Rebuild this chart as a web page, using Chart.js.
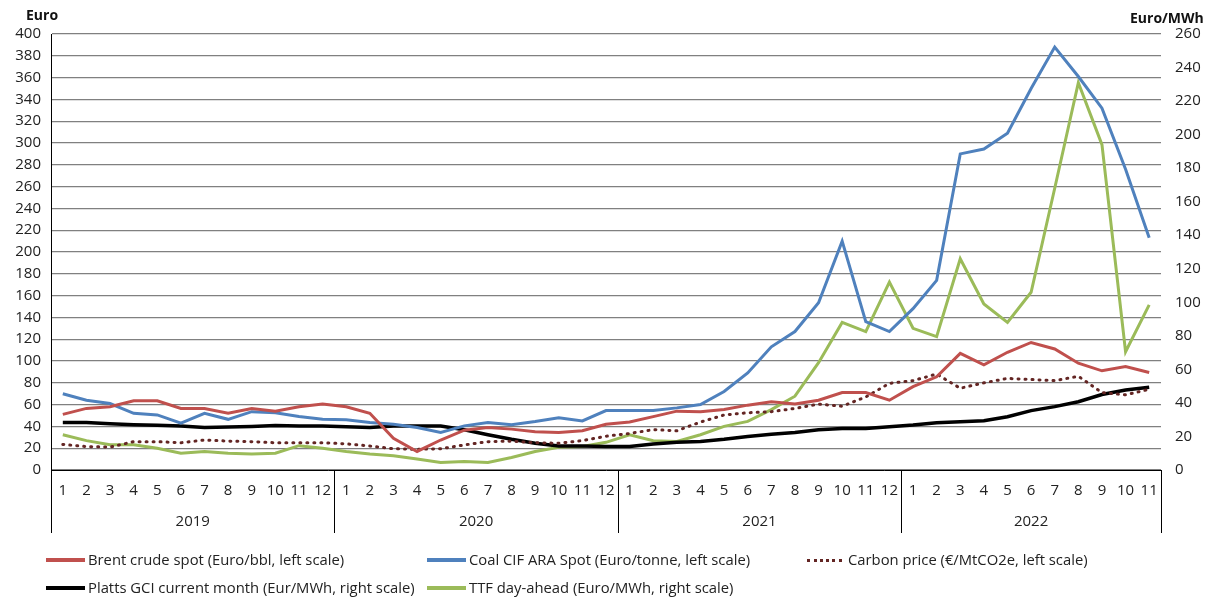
<!DOCTYPE html>
<html>
<head>
<meta charset="utf-8">
<script src="https://cdn.jsdelivr.net/npm/chart.js@4.4.0/dist/chart.umd.min.js"></script>
<style>
  body { margin: 0; background: #fff; font-family: "Open Sans", sans-serif; }
  #wrap { position: relative; width: 1214px; height: 601px; }
  .item { position: absolute; font-size: 14.8px; color: #222; white-space: nowrap; line-height: 20px; }
  .item span.sw { display: inline-block; width: 39px; height: 0; border-top: 4px solid; vertical-align: middle; margin-right: 3px; position: relative; top: -1px; }
  .axt { position: absolute; font-size: 14px; font-weight: bold; color: #111; }
</style>
</head>
<body>
<div id="wrap">
  <canvas id="chart" width="1214" height="601"></canvas>
  <div class="axt" style="left:26px; top:5px;">Euro</div>
  <div class="axt" style="left:1130px; top:8px;">Euro/MWh</div>
  <div class="item" style="left:46px; top:549px;"><span class="sw" style="border-color:#c0504d"></span>Brent crude spot (Euro/bbl, left scale)</div>
  <div class="item" style="left:427px; top:549px;"><span class="sw" style="border-color:#4f81bd"></span>Coal CIF ARA Spot (Euro/tonne, left scale)</div>
  <div class="item" style="left:807px; top:549px;"><span class="sw" style="border-top:3px dotted #632523; width:35px; margin-right:6px"></span>Carbon price (€/MtCO2e, left scale)</div>
  <div class="item" style="left:46px; top:577px;"><span class="sw" style="border-color:#000"></span>Platts GCI current month (Eur/MWh, right scale)</div>
  <div class="item" style="left:427px; top:577px;"><span class="sw" style="border-color:#9bbb59"></span>TTF day-ahead (Euro/MWh, right scale)</div>
</div>
<script>
// mesiace a roky
const years = ['2019', '2020', '2021', '2022'];
const monthsPerYear = [12, 12, 12, 11];
const months = [];
monthsPerYear.forEach((n) => { for (let m = 1; m <= n; m++) months.push(String(m)); });

// lava os (Euro)
const brent = [51, 56.5, 58, 63.5, 63.5, 56.5, 56.5, 52, 56.5, 54, 58, 60.5,
  58, 52, 29, 17, 27.5, 36.5, 39, 37.5, 35, 34.5, 36, 42,
  44, 49, 54, 53.5, 55.5, 59.5, 62.5, 60.5, 64, 71, 71, 64,
  76.5, 85.5, 107, 96.5, 108, 117, 111, 98, 91, 95, 89.5];
const coal = [70, 64, 61, 52, 50.5, 43, 52, 46.5, 53.5, 52.5, 49, 46.5,
  46, 43.5, 42, 39, 34.5, 40.5, 43.5, 41.5, 44.5, 48, 45, 54.5,
  54.5, 54.5, 57, 60, 72, 89, 113, 127, 153.5, 210, 136, 127,
  148, 174, 290, 294.5, 309, 350, 388, 361, 332, 276, 213];
const carbon = [23.5, 21.5, 21, 26, 26, 25, 27.5, 26.5, 26, 25, 25, 25,
  24, 22, 19.5, 19, 19.5, 23, 26, 26.5, 25, 24.5, 27, 31,
  33.5, 37, 36, 44, 50.5, 52.5, 53.5, 56.5, 60.5, 58.5, 67, 79.5,
  82, 88, 75, 80, 84, 83, 82, 86, 71, 69, 74];

// prava os (Euro/MWh)
const platts = [28.3, 28.3, 27.6, 27, 26.7, 26.2, 25.4, 25.7, 26, 26.5, 26.2, 26.2,
  25.8, 25.4, 26.2, 26.2, 26.2, 24, 21, 18.3, 16, 14.3, 14.3, 14,
  14, 15.5, 16.5, 17, 18.3, 20, 21.3, 22.3, 24, 24.8, 24.8, 25.8,
  26.8, 28.2, 28.8, 29.4, 31.8, 35.4, 37.8, 40.7, 45, 47.7, 49.3];
const ttf = [21, 17.5, 15, 15, 13, 10, 11, 10, 9.5, 10, 14.5, 13,
  11, 9.5, 8.5, 6.5, 4.5, 5, 4.5, 7.5, 11, 13.5, 14, 16.5,
  21, 17.5, 17, 21, 26, 29, 36, 44, 64, 88, 82.5, 112,
  84.5, 79.5, 126, 99, 88, 106, 168, 231, 194, 70.5, 98.5];

const FONT = { family: '"Open Sans", sans-serif', size: 15 };

// roky a deliace ciary pod osou x
const yearRows = {
  id: 'yearRows',
  afterDraw(chart) {
    const xs = chart.scales.x;
    const ctx = chart.ctx;
    const half = (xs.getPixelForValue(1) - xs.getPixelForValue(0)) / 2;
    const top = chart.chartArea.bottom;
    ctx.save();
    ctx.strokeStyle = '#000';
    ctx.lineWidth = 1;
    ctx.fillStyle = '#222';
    ctx.font = '15px "Open Sans", sans-serif';
    ctx.textAlign = 'center';
    ctx.textBaseline = 'middle';
    let start = 0;
    monthsPerYear.forEach((n, k) => {
      const x0 = xs.getPixelForValue(start) - half;
      const x1 = xs.getPixelForValue(start + n - 1) + half;
      ctx.beginPath();
      ctx.moveTo(Math.round(x0) + 0.5, top);
      ctx.lineTo(Math.round(x0) + 0.5, top + 63);
      ctx.stroke();
      if (k === monthsPerYear.length - 1) {
        ctx.beginPath();
        ctx.moveTo(Math.round(x1) + 0.5, top);
        ctx.lineTo(Math.round(x1) + 0.5, top + 63);
        ctx.stroke();
      }
      ctx.fillText(years[k], (x0 + x1) / 2, top + 52);
      start += n;
    });
    ctx.restore();
  }
};

const ctx = document.getElementById('chart').getContext('2d');
new Chart(ctx, {
  type: 'line',
  data: {
    labels: months,
    datasets: [
      { label: 'Brent crude spot (Euro/bbl, left scale)', data: brent, yAxisID: 'y', borderColor: '#c0504d', borderWidth: 3 },
      { label: 'Coal CIF ARA Spot (Euro/tonne, left scale)', data: coal, yAxisID: 'y', borderColor: '#4f81bd', borderWidth: 3 },
      { label: 'Carbon price (€/MtCO2e, left scale)', data: carbon, yAxisID: 'y', borderColor: '#632523', borderWidth: 3, borderDash: [1, 6], borderCapStyle: 'round' },
      { label: 'Platts GCI current month (Eur/MWh, right scale)', data: platts, yAxisID: 'y1', borderColor: '#000', borderWidth: 3.5 },
      { label: 'TTF day-ahead (Euro/MWh, right scale)', data: ttf, yAxisID: 'y1', borderColor: '#9bbb59', borderWidth: 3 }
    ]
  },
  options: {
    responsive: false,
    animation: false,
    layout: { padding: { top: 34, left: 0, right: 0, bottom: 0 } },
    elements: { point: { radius: 0 }, line: { tension: 0 } },
    plugins: { legend: { display: false }, tooltip: { enabled: false } },
    scales: {
      x: {
        offset: true,
        grid: { display: false, drawTicks: false },
        border: { display: true, color: '#000', width: 1 },
        ticks: { color: '#222', font: FONT, padding: 12, maxRotation: 0, autoSkip: false },
        afterFit(s) { s.height = 131; }
      },
      y: {
        position: 'left',
        min: 0, max: 400,
        ticks: { stepSize: 20, color: '#222', font: FONT, padding: 10 },
        grid: { color: '#808080', lineWidth: 1.2, drawTicks: false },
        border: { display: true, color: '#000', width: 1 },
        afterFit(s) { s.width = 51; }
      },
      y1: {
        position: 'right',
        min: 0, max: 260,
        ticks: { stepSize: 20, color: '#222', font: FONT, padding: 14 },
        grid: { display: false, drawTicks: false },
        border: { display: false },
        afterFit(s) { s.width = 53; }
      }
    }
  },
  plugins: [yearRows]
});
</script>
</body>
</html>
